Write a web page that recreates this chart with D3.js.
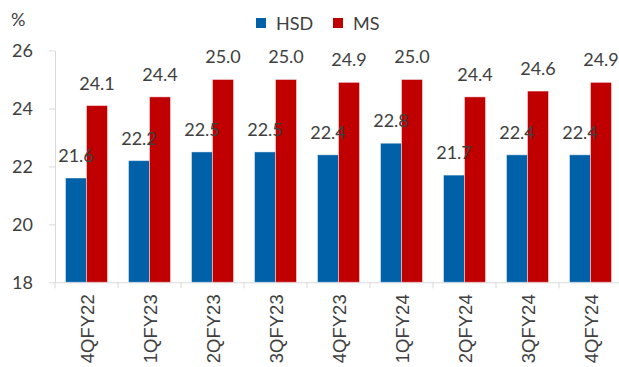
<!DOCTYPE html>
<html>
<head>
<meta charset="utf-8">
<script src="https://cdn.jsdelivr.net/npm/d3@7"></script>
<style>
  body { margin: 0; background: #fff; }
  svg { display: block; }
  text { fill: #404040; }
</style>
</head>
<body>
<div id="container"></div>
<script>
const categories = ["4QFY22", "1QFY23", "2QFY23", "3QFY23", "4QFY23", "1QFY24", "2QFY24", "3QFY24", "4QFY24"];
const hsd = [21.6, 22.2, 22.5, 22.5, 22.4, 22.8, 21.7, 22.4, 22.4];
const ms = [24.1, 24.4, 25.0, 25.0, 24.9, 25.0, 24.4, 24.6, 24.9];
const seriesNames = ["HSD", "MS"];
const colors = ["#0061a8", "#c00000"];
const yTicks = [18, 20, 22, 24, 26];

const totalWidth = 619;
const totalHeight = 367;
const margin = { top: 50.5, left: 55, bottom: 84.7 };
const plotRight = 622;
const plotBottom = totalHeight - margin.bottom;

const svg = d3.select("#container")
  .append("svg")
  .attr("width", totalWidth)
  .attr("height", totalHeight);

const xScale = d3.scaleBand()
  .domain(categories)
  .range([margin.left, plotRight])
  .paddingInner(0)
  .paddingOuter(0);

const inner = d3.scaleBand()
  .domain(seriesNames)
  .range([0, xScale.bandwidth()])
  .paddingOuter(0.5)
  .paddingInner(0);

const yScale = d3.scaleLinear()
  .domain([18, 26])
  .range([plotBottom, margin.top]);

// Y axis
const yAxis = svg.append("g")
  .attr("transform", `translate(${margin.left},0)`)
  .call(d3.axisLeft(yScale).tickValues(yTicks).tickSize(6).tickPadding(16).tickSizeOuter(0));
yAxis.select(".domain").attr("stroke", "#d9d9d9");
yAxis.selectAll(".tick line").attr("stroke", "#d9d9d9");
yAxis.selectAll(".tick text")
  .attr("font-family", "Lato")
  .attr("font-size", 18)
  .attr("fill", "#404040");

// X axis
const xAxis = svg.append("g")
  .attr("transform", `translate(0,${plotBottom})`)
  .call(d3.axisBottom(xScale).tickSize(6).tickSizeOuter(0).tickFormat(""));
xAxis.select(".domain").attr("stroke", "#d9d9d9");
xAxis.selectAll(".tick line")
  .attr("stroke", "#d9d9d9")
  .attr("transform", `translate(${-xScale.bandwidth() / 2},0)`);

svg.append("g")
  .selectAll("text")
  .data(categories)
  .join("text")
  .attr("transform", d => `translate(${xScale(d) + xScale.bandwidth() / 2 + 7},${plotBottom + 12}) rotate(-90)`)
  .attr("text-anchor", "end")
  .attr("font-family", "Liberation Sans")
  .attr("font-size", 18.5)
  .text(d => d);

// Bars first, then all value labels on top
const seriesData = [hsd, ms];
const barLayer = svg.append("g");
const labelLayer = svg.append("g");
seriesData.forEach((values, si) => {
  barLayer.append("g")
    .selectAll("rect")
    .data(values)
    .join("rect")
    .attr("x", (d, i) => xScale(categories[i]) + inner(seriesNames[si]))
    .attr("y", d => yScale(d))
    .attr("width", inner.bandwidth())
    .attr("height", d => plotBottom - yScale(d))
    .attr("fill", colors[si])
    .attr("stroke", "rgba(255,255,255,0.45)")
    .attr("stroke-width", 1);

  labelLayer.append("g")
    .selectAll("text")
    .data(values)
    .join("text")
    .attr("x", (d, i) => xScale(categories[i]) + inner(seriesNames[si]) + inner.bandwidth() / 2)
    .attr("y", d => yScale(d) - 16)
    .attr("text-anchor", "middle")
    .attr("font-family", "Lato")
    .attr("font-size", 18)
    .text(d => d.toFixed(1));
});

// Unit label
svg.append("text")
  .attr("x", 11)
  .attr("y", 26)
  .attr("font-family", "Lato")
  .attr("font-size", 18)
  .text("%");

// Legend
const legendX = [256, 333];
seriesNames.forEach((name, i) => {
  svg.append("rect")
    .attr("x", legendX[i])
    .attr("y", 18)
    .attr("width", 10)
    .attr("height", 10)
    .attr("fill", colors[i]);
  svg.append("text")
    .attr("x", legendX[i] + 20)
    .attr("y", 29.5)
    .attr("font-family", "Lato")
    .attr("font-size", 18)
    .text(name);
});
</script>
</body>
</html>
